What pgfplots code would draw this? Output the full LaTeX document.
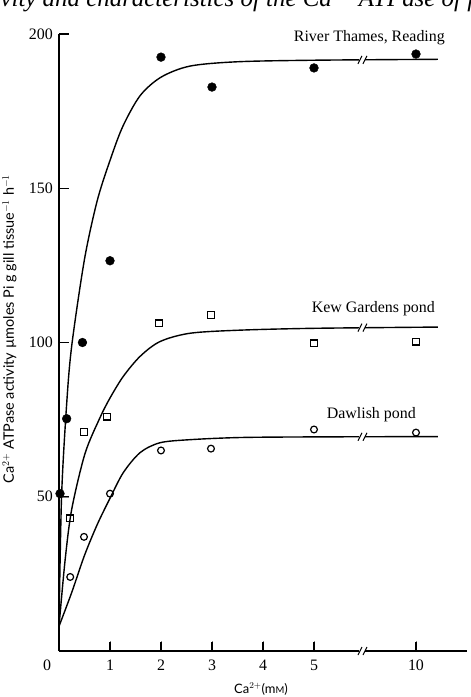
\documentclass[border=0pt]{standalone}
\usepackage{fontspec}
\setmainfont{Liberation Serif}
\newfontfamily\labfont{Lato}
\usepackage{pgfplots}
\pgfplotsset{compat=1.18}
\begin{document}
\begin{tikzpicture}
\useasboundingbox (-59bp,-46bp) rectangle (412bp,651bp);
\begin{axis}[
  at={(0,0)}, anchor=south west,
  scale only axis, width=408bp, height=617bp,
  xmin=0, xmax=8, ymin=0, ymax=200,
  axis x line*=bottom, axis y line*=left,
  axis line style={line width=1.3bp, black},
  xtick={1,2,3,4,5,7}, xticklabels={1,2,3,4,5,10},
  ytick={50,100,150,200},
  tick align=inside,
  major tick length=10bp,
  /pgf/number format/assume math mode=true,
  tick label style={font=\fontsize{16}{18}\selectfont},
  xticklabel style={anchor=north, inner sep=0pt, yshift=-9bp},
  yticklabel style={anchor=east, inner sep=0pt, xshift=-6bp},
  clip=false,
]
% fitted curves
\addplot[black, line width=1.4bp, smooth, tension=0.5] coordinates {
 (0,8) (0.05,50) (0.15,80) (0.25,99) (0.5,127) (0.75,146) (1,159) (1.25,170)
 (1.59,180) (2,186) (2.57,189.6) (3.5,191) (5,191.5) (7.43,191.8)};
\addplot[black, line width=1.4bp, smooth, tension=0.5] coordinates {
 (0,8) (0.12,29.5) (0.25,46) (0.51,64) (0.8,75.5) (1.0,82) (1.26,89)
 (1.59,95.5) (1.98,100.3) (2.57,103) (3.55,104) (5,104.6) (7.43,105)};
\addplot[black, line width=1.4bp, smooth, tension=0.5] coordinates {
 (0,8) (0.25,19) (0.5,31) (0.75,41) (1.0,49.5) (1.26,57.8) (1.59,64.3)
 (1.98,67.5) (2.57,68.5) (3.55,69.2) (5,69.4) (7.43,69.5)};
% data: River Thames, Reading
\addplot[only marks, mark=*, mark size=4.4bp, black] coordinates {
 (0.02,51) (0.15,75.3) (0.46,100) (1,126.5) (2,192.5) (3,182.8) (5,189) (7,193.5)};
% Kew Gardens pond
\addplot[only marks, mark=square, mark size=3.4bp, line width=1.2bp, black] coordinates {
 (0.22,43) (0.49,71) (0.94,76) (1.96,106.2) (2.98,109) (5,99.7) (7,100.3)};
% Dawlish pond
\addplot[only marks, mark=o, mark size=3.4bp, line width=1.2bp, black] coordinates {
 (0.22,24) (0.49,37) (1,51) (2,65) (2.98,65.6) (5,71.8) (7,70.8)};
\coordinate (b1) at (axis cs:5.95,191.6);
\coordinate (b2) at (axis cs:5.95,104.8);
\coordinate (b3) at (axis cs:5.95,69.45);
\coordinate (b4) at (axis cs:5.95,0);
\coordinate (o) at (axis cs:0,0);
\coordinate (xa) at (axis cs:1,0);
\coordinate (xb) at (axis cs:2,0);
\coordinate (xc) at (axis cs:3,0);
\coordinate (xd) at (axis cs:4,0);
\coordinate (xe) at (axis cs:5,0);
\coordinate (xf) at (axis cs:7,0);
\coordinate (ya) at (axis cs:0,50);
\coordinate (yb) at (axis cs:0,100);
\coordinate (yc) at (axis cs:0,150);
\coordinate (yd) at (axis cs:0,200);
\node[anchor=base east, inner sep=0pt, font=\fontsize{16}{18}\selectfont] at (axis cs:7.57,197.7) {River Thames, Reading};
\node[anchor=base east, inner sep=0pt, font=\fontsize{16}{18}\selectfont] at (axis cs:7.375,109.6) {Kew Gardens pond};
\node[anchor=base east, inner sep=0pt, font=\fontsize{16}{18}\selectfont] at (axis cs:7.0,75.5) {Dawlish pond};
\end{axis}
% axis tick marks (inward)
\draw[black, line width=1.3bp] (xa) -- ([yshift=9bp]xa) (xb) -- ([yshift=9bp]xb) (xc) -- ([yshift=9bp]xc)
  (xd) -- ([yshift=9bp]xd) (xe) -- ([yshift=9bp]xe) (xf) -- ([yshift=9bp]xf);
\draw[black, line width=1.3bp] (ya) -- ([xshift=10bp]ya) (yb) -- ([xshift=10bp]yb) (yc) -- ([xshift=10bp]yc) (yd) -- ([xshift=10bp]yd);
\node[anchor=north, inner sep=0pt, font=\fontsize{16}{18}\selectfont] at ([xshift=-12bp,yshift=-9bp]o) {0};
\foreach \b in {b1,b2,b3,b4}{
  \fill[white] ([xshift=-3bp,yshift=-2bp]\b) rectangle ([xshift=3bp,yshift=2bp]\b);
  \draw[line width=1bp] ([xshift=-4.5bp,yshift=-4bp]\b) -- ([xshift=-0.5bp,yshift=4bp]\b);
  \draw[line width=1bp] ([xshift=0.5bp,yshift=-4bp]\b) -- ([xshift=4.5bp,yshift=4bp]\b);
}
\node[rotate=90, anchor=base, inner sep=0pt, font=\labfont\fontsize{14.5}{16}\selectfont] at (-45bp,322bp)
  {Ca$^{2+}$ ATPase activity \textmu moles Pi g gill tissue$^{-1}$ h$^{-1}$};
\node[anchor=base, inner sep=0pt, font=\labfont\fontsize{13}{15}\selectfont] at (202bp,-42bp)
  {Ca$^{2+}$(m{\fontsize{9.5}{10}\selectfont M})};
\node[anchor=base west, inner sep=0pt, font=\itshape\fontsize{25}{28}\selectfont] at (-96bp,644bp)
  {activity and characteristics of the Ca$^{2+}$ ATPase of fish};
\end{tikzpicture}
\end{document}
